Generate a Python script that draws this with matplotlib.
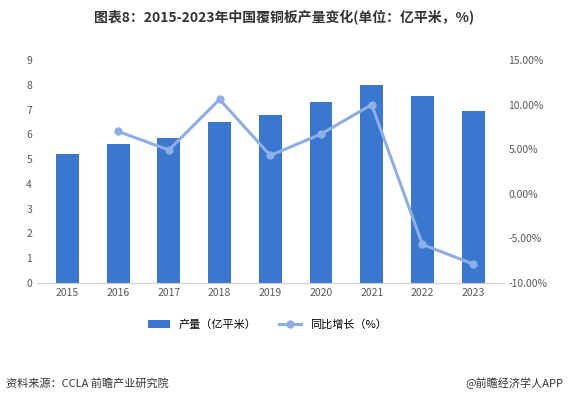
import matplotlib.pyplot as plt
from matplotlib.ticker import FuncFormatter

plt.rcParams['font.family'] = ['Noto Sans CJK SC', 'DejaVu Sans']

years = ["2015", "2016", "2017", "2018", "2019", "2020", "2021", "2022", "2023"]
output = [5.2, 5.6, 5.85, 6.5, 6.8, 7.3, 8.0, 7.55, 6.95]
growth_years = years[1:]
growth = [7.0, 4.9, 10.6, 4.3, 6.7, 10.0, -5.7, -7.9]

fig = plt.figure(figsize=(5.69, 4.01), dpi=100)
ax = fig.add_axes([0.065, 0.295, 0.82, 0.555])
ax2 = ax.twinx()

x = range(len(years))
bars = ax.bar(x, output, width=0.45, color="#3a78cf", label="产量（亿平米）")
ax.set_ylim(0, 9)
ax.set_yticks(range(10))
ax.set_xticks(list(x))
ax.set_xticklabels(years)
ax.set_xlim(-0.6, len(years) - 0.4)

gx = [years.index(y) for y in growth_years]
line, = ax2.plot(gx, growth, color="#8eaee6", lw=2.2, marker="o", ms=5,
                 label="同比增长（%）")
ax2.set_ylim(-10, 15)
ax2.set_yticks(range(-10, 16, 5))
ax2.yaxis.set_major_formatter(FuncFormatter(lambda v, p: "%.2f%%" % v))

for a in (ax, ax2):
    for s in a.spines.values():
        s.set_visible(False)
    a.tick_params(length=0, labelsize=7.5, colors="#595959")
ax.spines["bottom"].set_visible(True)
ax.spines["bottom"].set_color("#d0d0d0")

fig.text(0.5, 0.945, "图表8：2015-2023年中国覆铜板产量变化(单位：亿平米，%)",
         ha="center", fontsize=10, fontweight="bold", color="#333333")
fig.legend([bars, line], ["产量（亿平米）", "同比增长（%）"], loc="center",
           bbox_to_anchor=(0.47, 0.19), ncol=2, frameon=False, fontsize=8)
fig.text(0.01, 0.035, "资料来源：CCLA 前瞻产业研究院", fontsize=8, color="#333333")
fig.text(0.99, 0.035, "@前瞻经济学人APP", fontsize=8, color="#333333", ha="right")

fig.savefig("out.png", dpi=100)
